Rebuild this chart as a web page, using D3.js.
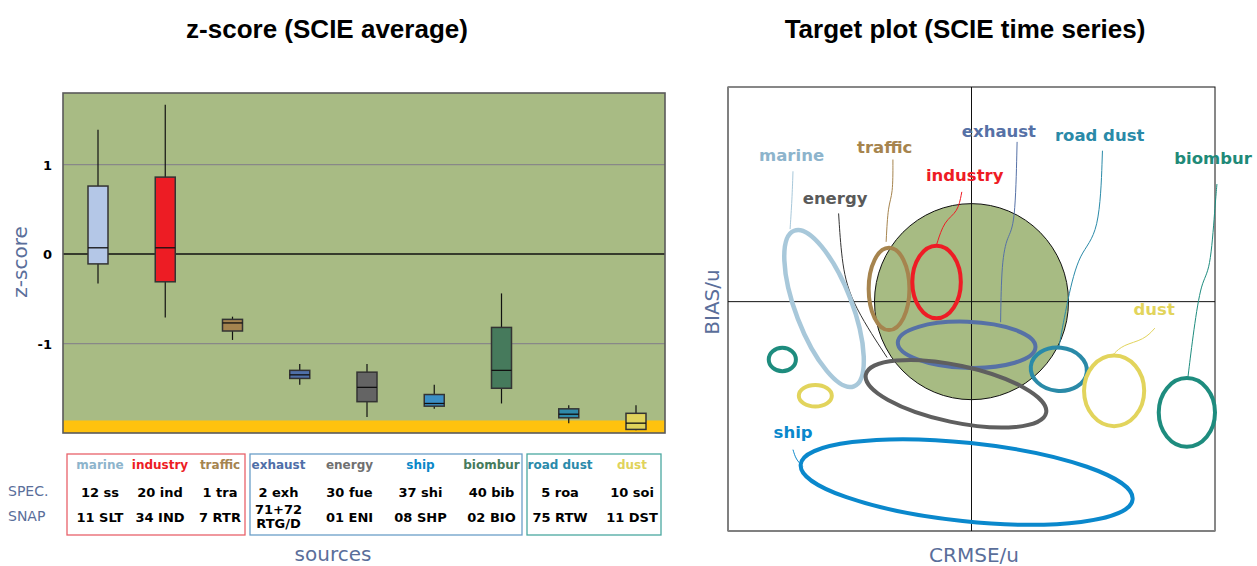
<!DOCTYPE html>
<html>
<head>
<meta charset="utf-8">
<script src="https://cdn.jsdelivr.net/npm/d3@7/dist/d3.min.js"></script>
<style>
  body { margin: 0; background: #fff; }
  svg { display: block; }
</style>
</head>
<body>
<div id="chart-area"></div>
<script>
// ---- left panel data (z-score box plots) ----
var sources = ["marine", "industry", "traffic", "exhaust", "energy", "ship", "biombur", "road dust", "dust"];
var whiskerHigh = [1.39, 1.67, -0.70, -1.23, -1.23, -1.46, -0.44, -1.69, -1.69];
var boxHigh     = [0.76, 0.86, -0.73, -1.30, -1.32, -1.57, -0.82, -1.73, -1.78];
var medians     = [0.07, 0.07, -0.77, -1.35, -1.49, -1.67, -1.30, -1.79, -1.89];
var boxLow      = [-0.11, -0.31, -0.86, -1.39, -1.65, -1.70, -1.50, -1.83, -1.96];
var whiskerLow  = [-0.33, -0.71, -0.96, -1.46, -1.82, -1.73, -1.67, -1.89, -1.97];
var yTicks = [1, 0, -1];
var floorBand = [-2, -1.86];

var specCodes = ["12 ss", "20 ind", "1 tra", "2 exh", "30 fue", "37 shi", "40 bib", "5 roa", "10 soi"];
var snapCodes = ["11 SLT", "34 IND", "7 RTR", "71+72|RTG/D", "01 ENI", "08 SHP", "02 BIO", "75 RTW", "11 DST"];
var groups = [
  ["marine", "industry", "traffic"],
  ["exhaust", "energy", "ship", "biombur"],
  ["road dust", "dust"]
];

// ---- right panel data (target plot regions) ----
var regionSource = ["marine", "traffic", "industry", "exhaust", "energy", "road dust", "dust", "biombur", "biombur", "dust", "ship"];
var regionCx     = [-1.52, -0.85, -0.36, -0.05, -0.16, 0.90, 1.47, 2.22, -1.95, -1.61, -0.05];
var regionCy     = [-0.07, 0.13, 0.20, -0.44, -0.94, -0.69, -0.91, -1.13, -0.59, -0.96, -1.84];
var regionRx     = [0.29, 0.21, 0.25, 0.71, 0.95, 0.29, 0.31, 0.29, 0.14, 0.17, 1.72];
var regionRy     = [0.85, 0.42, 0.37, 0.235, 0.29, 0.22, 0.36, 0.35, 0.12, 0.11, 0.40];
var regionAngle  = [-21, 0, 0, 2, 12, 6, 0, 0, 0, 0, 6];

var labelNames = ["marine", "energy", "traffic", "industry", "exhaust", "road dust", "biombur", "dust", "ship"];
var labelX = [-2.19, -1.74, -1.18, -0.47, -0.10, 0.86, 2.09, 1.67, -2.04];
var labelY = [1.44, 1.00, 1.52, 1.23, 1.68, 1.64, 1.40, -0.14, -1.39];
var leaders = [
  [[-1.84, 1.33], [-1.85, 1.04], [-1.87, 0.74]],
  [[-1.37, 0.90], [-1.34, 0.43], [-1.26, 0.02], [-0.87, -0.57]],
  [[-0.81, 1.45], [-0.81, 1.09], [-0.86, 0.99], [-0.88, 0.61]],
  [[-0.10, 1.12], [-0.14, 0.91], [-0.28, 0.83], [-0.36, 0.58]],
  [[0.47, 1.63], [0.45, 0.77], [0.37, 0.67], [0.31, 0.41], [0.30, -0.21]],
  [[1.35, 1.54], [1.32, 0.68], [1.11, 0.51], [0.99, 0.02], [0.90, -0.47]],
  [[2.53, 1.20], [2.51, 0.97], [2.46, 0.30], [2.37, 0.22], [2.29, -0.29], [2.23, -0.78]],
  [[1.89, -0.27], [1.78, -0.39], [1.56, -0.44], [1.46, -0.54]],
  [[-1.84, -1.51], [-1.81, -1.61], [-1.74, -1.68]]
];

// colours
var boxColor = {
  "marine": "#b4c7e7", "industry": "#ed1c24", "traffic": "#a5844f", "exhaust": "#4f6fa8",
  "energy": "#646464", "ship": "#3b8fc6", "biombur": "#467a5c", "road dust": "#2f8aaa", "dust": "#e0d35b"
};
var textColor = {
  "marine": "#8db4cc", "industry": "#ed1c24", "traffic": "#a5844f", "exhaust": "#4f6fa8",
  "energy": "#707070", "ship": "#0a88c8", "biombur": "#467a5c", "road dust": "#2a8aaa", "dust": "#e0d35b"
};
var ringColor = {
  "marine": "#a8c8da", "industry": "#ee1c25", "traffic": "#a6844e", "exhaust": "#5671a6",
  "energy": "#5f5f5f", "ship": "#0a88cc", "biombur": "#1e8c7e", "road dust": "#2a8aa8", "dust": "#e2d45c"
};
var targetLabelColor = Object.assign({}, ringColor, {"marine": "#8db4cc", "energy": "#5a5a5a", "biombur": "#1f8a78"});
var groupColor = ["#e8626a", "#6a9ec8", "#4aa8a0"];
var groupBox = [[67, 245], [250, 522], [527, 661]];
var groupCols = [[70, 250], [243, 527], [524, 668]];
var slate = "#5a6e9a";
var titleFont = "'Liberation Sans', Arial, sans-serif";
var dejavu = "'DejaVu Sans', Verdana, sans-serif";

var svg = d3.select("#chart-area").append("svg")
  .attr("width", 1257)
  .attr("height", 566);

// ================= left panel =================
var x = d3.scalePoint().domain(sources).range([98, 636]);
var y = d3.scaleLinear().domain([-2, 1.8]).range([433, 93]);
var left = 63, right = 665;

svg.append("text")
  .attr("x", 327).attr("y", 38)
  .attr("text-anchor", "middle")
  .style("font-family", titleFont).style("font-weight", "bold").style("font-size", "26px")
  .text("z-score (SCIE average)");

svg.append("rect")
  .attr("x", left).attr("y", y(1.8))
  .attr("width", right - left).attr("height", y(-2) - y(1.8))
  .attr("fill", "#a8bb84");

svg.append("rect")
  .attr("x", left).attr("y", y(floorBand[1]))
  .attr("width", right - left).attr("height", y(floorBand[0]) - y(floorBand[1]))
  .attr("fill", "#ffc20e");

svg.selectAll(".grid").data(yTicks).enter().append("line")
  .attr("x1", left).attr("x2", right)
  .attr("y1", (d) => y(d)).attr("y2", (d) => y(d))
  .attr("stroke", (d) => d == 0 ? "#111" : "#888")
  .attr("stroke-width", (d) => d == 0 ? 1.5 : 1.2);

svg.append("rect")
  .attr("x", left).attr("y", y(1.8))
  .attr("width", right - left).attr("height", y(-2) - y(1.8))
  .attr("fill", "none").attr("stroke", "#5a5a5a").attr("stroke-width", 1.6);

svg.selectAll(".tick-label").data(yTicks).enter().append("text")
  .attr("x", 52).attr("y", (d) => y(d) + 5)
  .attr("text-anchor", "end")
  .style("font-family", dejavu).style("font-weight", "bold").style("font-size", "13px")
  .text((d) => d);

svg.append("text")
  .attr("transform", "translate(27,262) rotate(-90)")
  .attr("text-anchor", "middle")
  .attr("fill", slate)
  .style("font-family", dejavu).style("font-size", "20px")
  .text("z-score");

var boxW = 20;
var boxes = svg.selectAll(".box").data(sources).enter().append("g");

boxes.append("line")
  .attr("x1", (d) => x(d)).attr("x2", (d) => x(d))
  .attr("y1", (d, i) => y(whiskerHigh[i])).attr("y2", (d, i) => y(whiskerLow[i]))
  .attr("stroke", "#111").attr("stroke-width", 1.2);

boxes.append("rect")
  .attr("x", (d) => x(d) - boxW / 2)
  .attr("y", (d, i) => y(boxHigh[i]))
  .attr("width", boxW)
  .attr("height", (d, i) => y(boxLow[i]) - y(boxHigh[i]))
  .attr("fill", (d) => boxColor[d])
  .attr("stroke", "#333").attr("stroke-width", 1.5);

boxes.append("line")
  .attr("x1", (d) => x(d) - boxW / 2).attr("x2", (d) => x(d) + boxW / 2)
  .attr("y1", (d, i) => y(medians[i])).attr("y2", (d, i) => y(medians[i]))
  .attr("stroke", "#111").attr("stroke-width", 1.3);

// legend table under the box plot
var tableTop = 454, tableBottom = 535;
groups.forEach((members, g) => {
  var col = d3.scaleBand().domain(members).range(groupCols[g]);
  svg.append("rect")
    .attr("x", groupBox[g][0]).attr("y", tableTop)
    .attr("width", groupBox[g][1] - groupBox[g][0]).attr("height", tableBottom - tableTop)
    .attr("fill", "none").attr("stroke", groupColor[g]).attr("stroke-width", 1.3);

  members.forEach((m) => {
    var i = sources.indexOf(m);
    var cx = col(m) + col.bandwidth() / 2;
    svg.append("text")
      .attr("x", cx).attr("y", 469)
      .attr("text-anchor", "middle").attr("fill", textColor[m])
      .style("font-family", dejavu).style("font-weight", "bold").style("font-size", "12px")
      .text(m);
    svg.append("text")
      .attr("x", cx).attr("y", 497)
      .attr("text-anchor", "middle")
      .style("font-family", dejavu).style("font-weight", "bold").style("font-size", "13px")
      .text(specCodes[i]);
    var parts = snapCodes[i].split("|");
    var t = svg.append("text")
      .attr("x", cx).attr("y", parts.length > 1 ? 514 : 522)
      .attr("text-anchor", "middle")
      .style("font-family", dejavu).style("font-weight", "bold").style("font-size", "13px");
    parts.forEach((p, k) => {
      t.append("tspan").attr("x", cx).attr("dy", k == 0 ? 0 : 14).text(p);
    });
  });
});

svg.append("text").attr("x", 8).attr("y", 496)
  .attr("fill", slate).style("font-family", dejavu).style("font-size", "14px").text("SPEC.");
svg.append("text").attr("x", 8).attr("y", 521)
  .attr("fill", slate).style("font-family", dejavu).style("font-size", "14px").text("SNAP");

svg.append("text")
  .attr("x", 333).attr("y", 561)
  .attr("text-anchor", "middle").attr("fill", slate)
  .style("font-family", dejavu).style("font-size", "20px")
  .text("sources");

// ================= right panel =================
var tx = d3.scaleLinear().domain([-2.51, 2.51]).range([728, 1215]);
var ty = d3.scaleLinear().domain([-2.34, 2.19]).range([531, 87]);

svg.append("text")
  .attr("x", 965).attr("y", 38)
  .attr("text-anchor", "middle")
  .style("font-family", titleFont).style("font-weight", "bold").style("font-size", "26px")
  .text("Target plot (SCIE time series)");

// frame
svg.append("rect")
  .attr("x", tx(-2.51)).attr("y", ty(2.19))
  .attr("width", tx(2.51) - tx(-2.51)).attr("height", ty(-2.34) - ty(2.19))
  .attr("fill", "none").attr("stroke", "#111").attr("stroke-width", 1);
svg.append("line")
  .attr("x1", tx(-2.51)).attr("x2", tx(-2.51)).attr("y1", ty(2.19)).attr("y2", ty(-2.34))
  .attr("stroke", "#808080").attr("stroke-width", 2);
svg.append("line")
  .attr("x1", tx(-2.51)).attr("x2", tx(2.51)).attr("y1", ty(-2.34)).attr("y2", ty(-2.34))
  .attr("stroke", "#808080").attr("stroke-width", 2);

// unit circle
svg.append("ellipse")
  .attr("cx", tx(0)).attr("cy", ty(0))
  .attr("rx", tx(1) - tx(0)).attr("ry", ty(0) - ty(1))
  .attr("fill", "#a7bb83").attr("stroke", "#111").attr("stroke-width", 1);

// axes cross
svg.append("line")
  .attr("x1", tx(0)).attr("x2", tx(0)).attr("y1", ty(2.19)).attr("y2", ty(-2.34))
  .attr("stroke", "#111").attr("stroke-width", 1);
svg.append("line")
  .attr("x1", tx(-2.51)).attr("x2", tx(2.51)).attr("y1", ty(0)).attr("y2", ty(0))
  .attr("stroke", "#111").attr("stroke-width", 1);

// leader lines
var leaderLine = d3.line()
  .x((d) => tx(d[0])).y((d) => ty(d[1]))
  .curve(d3.curveBasis);
svg.selectAll(".leader").data(leaders).enter().append("path")
  .attr("d", leaderLine)
  .attr("fill", "none")
  .attr("stroke", (d, i) => labelNames[i] == "energy" ? "#333" : ringColor[labelNames[i]])
  .attr("stroke-width", 1);

// source regions
svg.selectAll(".region").data(regionSource).enter().append("ellipse")
  .attr("transform", (d, i) => "translate(" + tx(regionCx[i]) + "," + ty(regionCy[i]) + ") rotate(" + regionAngle[i] + ")")
  .attr("rx", (d, i) => tx(regionRx[i]) - tx(0))
  .attr("ry", (d, i) => ty(0) - ty(regionRy[i]))
  .attr("fill", "none")
  .attr("stroke", (d) => ringColor[d])
  .attr("stroke-width", (d) => d == "marine" ? 4.5 : 4);

svg.selectAll(".region-label").data(labelNames).enter().append("text")
  .attr("x", (d, i) => tx(labelX[i])).attr("y", (d, i) => ty(labelY[i]))
  .attr("fill", (d) => targetLabelColor[d])
  .style("font-family", dejavu).style("font-weight", "bold").style("font-size", "16.5px")
  .text((d) => d);

svg.append("text")
  .attr("transform", "translate(719,302) rotate(-90)")
  .attr("text-anchor", "middle").attr("fill", slate)
  .style("font-family", dejavu).style("font-size", "20px")
  .text("BIAS/u");

svg.append("text")
  .attr("x", 974).attr("y", 562)
  .attr("text-anchor", "middle").attr("fill", slate)
  .style("font-family", dejavu).style("font-size", "20px")
  .text("CRMSE/u");
</script>
</body>
</html>
